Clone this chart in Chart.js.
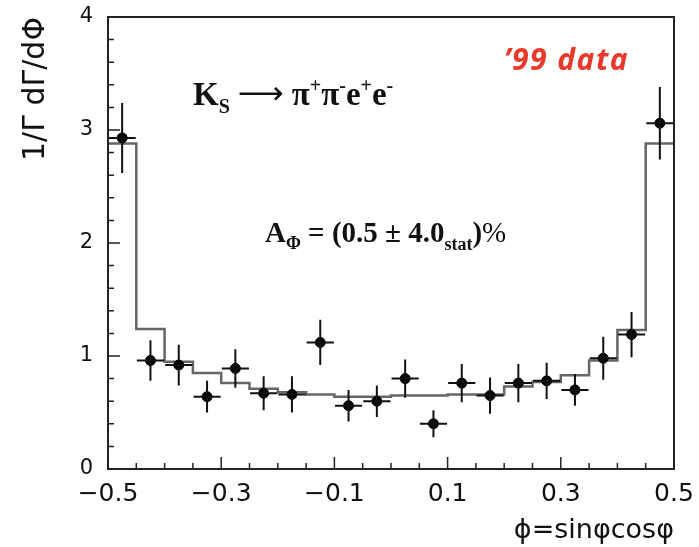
<!DOCTYPE html>
<html>
<head>
<meta charset="utf-8">
<script src="https://cdn.jsdelivr.net/npm/chart.js@4/dist/chart.umd.min.js"></script>
<style>html,body{margin:0;padding:0;background:#fff}</style>
</head>
<body>
<canvas id="c" width="699" height="547"></canvas>
<script>
// data points ('99 data), one per bin of width 0.05
const binCenters = [-0.475,-0.425,-0.375,-0.325,-0.275,-0.225,-0.175,-0.125,-0.075,-0.025,
                    0.025,0.075,0.125,0.175,0.225,0.275,0.325,0.375,0.425,0.475];
const dataValues = [2.93,0.96,0.92,0.64,0.89,0.67,0.66,1.12,0.56,0.60,
                    0.80,0.40,0.76,0.65,0.76,0.78,0.70,0.98,1.19,3.06];
const dataErrors = [0.31,0.18,0.18,0.14,0.17,0.15,0.16,0.20,0.14,0.14,
                    0.17,0.12,0.17,0.16,0.17,0.16,0.14,0.19,0.20,0.32];
// Monte Carlo histogram
const binEdges = [-0.5,-0.45,-0.4,-0.35,-0.3,-0.25,-0.2,-0.15,-0.1,-0.05,
                  0,0.05,0.1,0.15,0.2,0.25,0.3,0.35,0.4,0.45,0.5];
const mcValues = [2.88,1.24,0.95,0.85,0.76,0.71,0.68,0.66,0.64,0.64,
                  0.65,0.65,0.66,0.66,0.73,0.77,0.83,0.96,1.23,2.88];
const xTickValues = [-0.5,-0.3,-0.1,0.1,0.3,0.5];
const yTickValues = [0,1,2,3,4];

const histPoints = binEdges.map((x, i) => ({x: x, y: mcValues[Math.min(i, mcValues.length - 1)]}));
const dataPoints = binCenters.map((x, i) => ({x: x, y: dataValues[i]}));

function fmt(v) {
  const s = v.toFixed(1);
  return v < 0 ? '\u2212' + s.slice(1) : (v === 0 ? '0' : s);
}

function drawParts(ctx, x, y, parts) {
  // parts: [text, font, dy, extra gap after]
  parts.forEach(p => {
    ctx.font = p[1];
    ctx.fillText(p[0], x, y + (p[2] || 0));
    x += ctx.measureText(p[0]).width + (p[3] || 0);
  });
}

const errorBars = {
  id: 'errorBars',
  afterDatasetsDraw(chart) {
    const ctx = chart.ctx, xs = chart.scales.x, ys = chart.scales.y;
    ctx.save();
    ctx.strokeStyle = '#111';
    ctx.lineWidth = 2;
    binCenters.forEach((c, i) => {
      const px = xs.getPixelForValue(c), py = ys.getPixelForValue(dataValues[i]);
      ctx.beginPath();
      ctx.moveTo(xs.getPixelForValue(c - 0.024), py);
      ctx.lineTo(xs.getPixelForValue(c + 0.024), py);
      ctx.moveTo(px, ys.getPixelForValue(dataValues[i] - dataErrors[i]));
      ctx.lineTo(px, ys.getPixelForValue(dataValues[i] + dataErrors[i]));
      ctx.stroke();
    });
    ctx.restore();
  }
};

const frameAndText = {
  id: 'frameAndText',
  afterDraw(chart) {
    const ctx = chart.ctx, a = chart.chartArea, xs = chart.scales.x, ys = chart.scales.y;
    ctx.save();
    ctx.strokeStyle = '#222';
    ctx.lineWidth = 2;
    ctx.strokeRect(a.left, a.top, a.right - a.left, a.bottom - a.top);
    // inward ticks
    ctx.lineWidth = 1.5;
    ctx.beginPath();
    for (let k = 0; k <= 20; k++) {
      const v = -0.5 + k * 0.05;
      const len = (k % 4 === 0) ? 12 : 6;
      const px = xs.getPixelForValue(v);
      ctx.moveTo(px, a.bottom);
      ctx.lineTo(px, a.bottom - len);
    }
    for (let k = 0; k <= 20; k++) {
      const v = k * 0.2;
      const len = (k % 5 === 0) ? 12 : 6;
      const py = ys.getPixelForValue(v);
      ctx.moveTo(a.left, py);
      ctx.lineTo(a.left + len, py);
    }
    ctx.stroke();

    // annotations
    ctx.fillStyle = '#111';
    ctx.textBaseline = 'alphabetic';
    ctx.textAlign = 'left';
    const big = 'bold 33px "Liberation Serif"';
    const sup = 'bold 20px "Liberation Serif"';
    drawParts(ctx, 193, 105, [
      ['K', big, 0], ['S', sup, 8, 8], ['\u27f6', '32px "DejaVu Sans"', -1, 8],
      ['\u03c0', big, 0], ['+', sup, -13], ['\u03c0', big, 0], ['-', sup, -13],
      ['e', big, 0], ['+', sup, -13], ['e', big, 0], ['-', sup, -13]
    ]);
    const mid = 'bold 29px "Liberation Serif"';
    const small = 'bold 18px "Liberation Serif"';
    drawParts(ctx, 265, 242, [
      ['A', mid, 0], ['\u03a6', small, 7], [' = (0.5 \u00b1 4.0', mid, 0],
      ['stat', small, 8], [')', mid, 0], ['%', '29px "Liberation Serif"', 0]
    ]);
    ctx.fillStyle = '#e8392b';
    ctx.font = 'italic bold 30px "Open Sans"';
    ctx.letterSpacing = '1.5px';
    ctx.fillText('\u201999 data', 504, 70);
    ctx.restore();
  }
};

new Chart(document.getElementById('c'), {
  type: 'scatter',
  data: {
    datasets: [
      {
        type: 'line',
        data: histPoints,
        stepped: 'before',
        borderColor: '#666',
        borderWidth: 2.5,
        pointRadius: 0,
        fill: false,
        order: 2
      },
      {
        data: dataPoints,
        backgroundColor: '#000',
        borderColor: '#000',
        pointRadius: 5,
        order: 1
      }
    ]
  },
  options: {
    responsive: false,
    animation: false,
    layout: {padding: {top: 17, right: 25, left: 0, bottom: 0}},
    plugins: {legend: {display: false}, tooltip: {enabled: false}},
    scales: {
      x: {
        type: 'linear',
        min: -0.5,
        max: 0.5,
        afterBuildTicks: s => { s.ticks = xTickValues.map(v => ({value: v})); },
        afterFit: s => { s.height = 78; s.paddingLeft = 0; s.paddingRight = 0; },
        grid: {display: false, drawTicks: false},
        border: {display: false},
        ticks: {
          padding: 10,
          color: '#111',
          font: {family: '"DejaVu Sans"', size: 25},
          maxRotation: 0,
          callback: v => fmt(v)
        },
        title: {
          display: true,
          text: '\u03d5=sin\u03c6cos\u03c6',
          align: 'end',
          color: '#111',
          font: {family: '"DejaVu Sans"', size: 27},
          padding: {top: 0, bottom: 0}
        }
      },
      y: {
        min: 0,
        max: 4,
        afterBuildTicks: s => { s.ticks = yTickValues.map(v => ({value: v})); },
        afterFit: s => { s.width = 108; s.paddingTop = 0; s.paddingBottom = 0; },
        grid: {display: false, drawTicks: false},
        border: {display: false},
        ticks: {
          padding: 15,
          color: '#111',
          font: {family: '"DejaVu Sans"', size: 21},
          callback: v => String(v)
        },
        title: {
          display: true,
          text: '1/\u0393 d\u0393/d\u03a6',
          align: 'end',
          color: '#111',
          font: {family: '"DejaVu Sans"', size: 30},
          padding: {top: 18, bottom: 0}
        }
      }
    }
  },
  plugins: [errorBars, frameAndText]
});
</script>
</body>
</html>
